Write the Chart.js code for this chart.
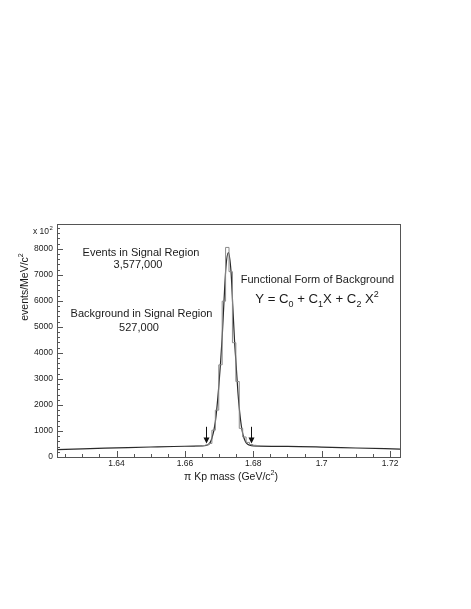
<!DOCTYPE html>
<html>
<head>
<meta charset="utf-8">
<script src="https://cdn.jsdelivr.net/npm/chart.js@4.4.0/dist/chart.umd.min.js"></script>
<style>
  html, body { margin: 0; padding: 0; background: #fff; }
</style>
</head>
<body>
<canvas id="massChart" width="471" height="609"></canvas>
<script>
// histogram bins: left edge (GeV/c2) and events/MeV/c2 (x 10^2)
const histLeft = [1.6629, 1.6639, 1.6649, 1.6659, 1.6669, 1.6679, 1.6689, 1.6699, 1.6709,
                  1.6719, 1.6729, 1.6739, 1.6749, 1.6759, 1.6769, 1.6779, 1.6789, 1.6799, 1.6809];
const histCounts = [425, 430, 440, 460, 520, 1030, 1800, 3540, 5985,
                    8050, 7120, 4390, 2900, 1100, 770, 560, 480, 450, 430];

// fitted curve (signal + background)
const fitX = [1.6226, 1.630, 1.640, 1.650, 1.660, 1.665, 1.6669, 1.6679, 1.6689, 1.6699, 1.6709,
              1.6714, 1.6720, 1.6727, 1.6735, 1.6740, 1.6745, 1.6750, 1.6755, 1.6760, 1.6765,
              1.6770, 1.6775, 1.6780, 1.6790, 1.680, 1.690, 1.700, 1.710, 1.7229];
const fitY = [285, 315, 350, 385, 412, 425, 480, 720, 1350, 2700, 4600,
              5900, 7300, 7850, 7100, 5800, 4500, 3500, 2500, 1750, 1200,
              850, 650, 530, 450, 425, 405, 380, 345, 305];

// signal region arrows
const arrowX = [1.6661, 1.6794];
const arrowTop = 1160;
const arrowTip = 520;

// axes
const xTickValues = [1.64, 1.66, 1.68, 1.70, 1.72];
const xTickLabels = ['1.64', '1.66', '1.68', '1.7', '1.72'];
const yTickValues = [0, 1000, 2000, 3000, 4000, 5000, 6000, 7000, 8000];
const yTickLabels = ['0', '1000', '2000', '3000', '4000', '5000', '6000', '7000', '8000'];

const FONT = '"Liberation Sans", Arial, Helvetica, sans-serif';

// dữ liệu cho biểu đồ
const histData = histLeft.map((x, i) => ({ x: x, y: histCounts[i] }));
histData.push({ x: histLeft[histLeft.length - 1] + 0.001, y: histCounts[histCounts.length - 1] });
const fitData = fitX.map((x, i) => ({ x: x, y: fitY[i] }));

// draw text with sub/superscripts, parts = [[text, 'n'|'sub'|'sup'], ...]
function richText(ctx, parts, cx, cy, size) {
  const widths = parts.map(p => {
    ctx.font = (p[1] === 'n' ? size : size * 0.68) + 'px ' + FONT;
    return ctx.measureText(p[0]).width;
  });
  let x = cx - widths.reduce((a, b) => a + b, 0) / 2;
  ctx.textAlign = 'left';
  ctx.textBaseline = 'alphabetic';
  parts.forEach((p, i) => {
    ctx.font = (p[1] === 'n' ? size : size * 0.68) + 'px ' + FONT;
    let dy = 0;
    if (p[1] === 'sub') dy = size * 0.3;
    if (p[1] === 'sup') dy = -size * 0.45;
    ctx.fillText(p[0], x, cy + size * 0.36 + dy);
    x += widths[i];
  });
}

const decorations = {
  id: 'decorations',
  afterDatasetsDraw(chart) {
    const { ctx, chartArea: a, scales: { x, y } } = chart;
    ctx.save();
    // khung
    ctx.strokeStyle = '#555';
    ctx.lineWidth = 1;
    ctx.strokeRect(Math.round(a.left) + 0.5, Math.round(a.top) + 0.5,
                   Math.round(a.right - a.left), Math.round(a.bottom - a.top));

    // tick marks pointing inwards
    ctx.beginPath();
    for (let v = 1.625; v < 1.7226; v += 0.005) {
      const px = Math.round(x.getPixelForValue(v)) + 0.5;
      const major = Math.abs(v / 0.02 - Math.round(v / 0.02)) < 0.01;
      ctx.moveTo(px, a.bottom);
      ctx.lineTo(px, a.bottom - (major ? 6 : 3));
    }
    for (let v = 0; v < 8900; v += 200) {
      const py = Math.round(y.getPixelForValue(v)) + 0.5;
      const major = v % 1000 === 0;
      ctx.moveTo(a.left, py);
      ctx.lineTo(a.left + (major ? 6 : 3), py);
    }
    ctx.stroke();

    // arrows
    ctx.strokeStyle = '#111';
    ctx.fillStyle = '#111';
    arrowX.forEach(v => {
      const px = Math.round(x.getPixelForValue(v)) + 0.5;
      const top = y.getPixelForValue(arrowTop);
      const tip = y.getPixelForValue(arrowTip);
      ctx.beginPath();
      ctx.moveTo(px, top);
      ctx.lineTo(px, tip - 5);
      ctx.stroke();
      ctx.beginPath();
      ctx.moveTo(px - 3, tip - 6);
      ctx.lineTo(px + 3, tip - 6);
      ctx.lineTo(px, tip);
      ctx.closePath();
      ctx.fill();
    });

    // chữ
    ctx.fillStyle = '#1a1a1a';
    ctx.textAlign = 'center';
    ctx.textBaseline = 'middle';
    ctx.font = '11px ' + FONT;
    ctx.fillText('Events in Signal Region', 141, 253);
    ctx.fillText('3,577,000', 138, 264.5);
    ctx.fillText('Background in Signal Region', 141.5, 314);
    ctx.fillText('527,000', 139, 327.5);
    ctx.fillText('Functional Form of Background', 317.5, 280);

    richText(ctx, [['Y = C', 'n'], ['0', 'sub'], [' + C', 'n'], ['1', 'sub'], ['X + C', 'n'],
                   ['2', 'sub'], [' X', 'n'], ['2', 'sup']], 317, 298.5, 13.2);

    // x 10^2
    ctx.textAlign = 'left';
    ctx.font = '8.5px ' + FONT;
    ctx.fillText('x 10', 33, 234);
    ctx.font = '6px ' + FONT;
    ctx.fillText('2', 49.5, 230);

    // trục x
    richText(ctx, [['\u03c0', 'n'], [' Kp mass (GeV/c', 'n'], ['2', 'sup'], [')', 'n']], 231, 476, 10.5);

    // trục y
    ctx.translate(24, 287);
    ctx.rotate(-Math.PI / 2);
    richText(ctx, [['events/MeV/c', 'n'], ['2', 'sup']], 0, 0, 10.5);
    ctx.restore();
  }
};

const ctx = document.getElementById('massChart').getContext('2d');
const massChart = new Chart(ctx, {
  type: 'scatter',
  data: {
    datasets: [
      {
        label: 'data',
        data: histData,
        showLine: true,
        stepped: 'before', // value holds from its left edge to the next point
        borderColor: '#8a8a8a',
        borderWidth: 1,
        pointRadius: 0
      },
      {
        label: 'fit',
        data: fitData,
        showLine: true,
        cubicInterpolationMode: 'monotone',
        borderColor: '#2a2a2a',
        borderWidth: 1.2,
        pointRadius: 0
      }
    ]
  },
  options: {
    responsive: false,
    devicePixelRatio: 1,
    animation: false,
    layout: { padding: { top: 224, right: 71, left: 0, bottom: 0 } },
    plugins: { legend: { display: false }, tooltip: { enabled: false } },
    scales: {
      x: {
        type: 'linear',
        min: 1.6226,
        max: 1.7229,
        grid: { display: false, drawTicks: false },
        border: { display: false },
        afterBuildTicks: s => { s.ticks = xTickValues.map(v => ({ value: v })); },
        afterFit: s => { s.height = 152; },
        ticks: {
          padding: 2,
          maxRotation: 0,
          color: '#1a1a1a',
          font: { family: FONT, size: 8.5 },
          callback: v => xTickLabels[xTickValues.findIndex(t => Math.abs(t - v) < 1e-6)]
        }
      },
      y: {
        min: 0,
        max: 8950,
        grid: { display: false, drawTicks: false },
        border: { display: false },
        afterBuildTicks: s => { s.ticks = yTickValues.map(v => ({ value: v })); },
        afterFit: s => { s.width = 57; },
        ticks: {
          padding: 4,
          color: '#1a1a1a',
          font: { family: FONT, size: 8.5 },
          callback: v => yTickLabels[yTickValues.indexOf(v)]
        }
      }
    }
  },
  plugins: [decorations]
});
</script>
</body>
</html>
